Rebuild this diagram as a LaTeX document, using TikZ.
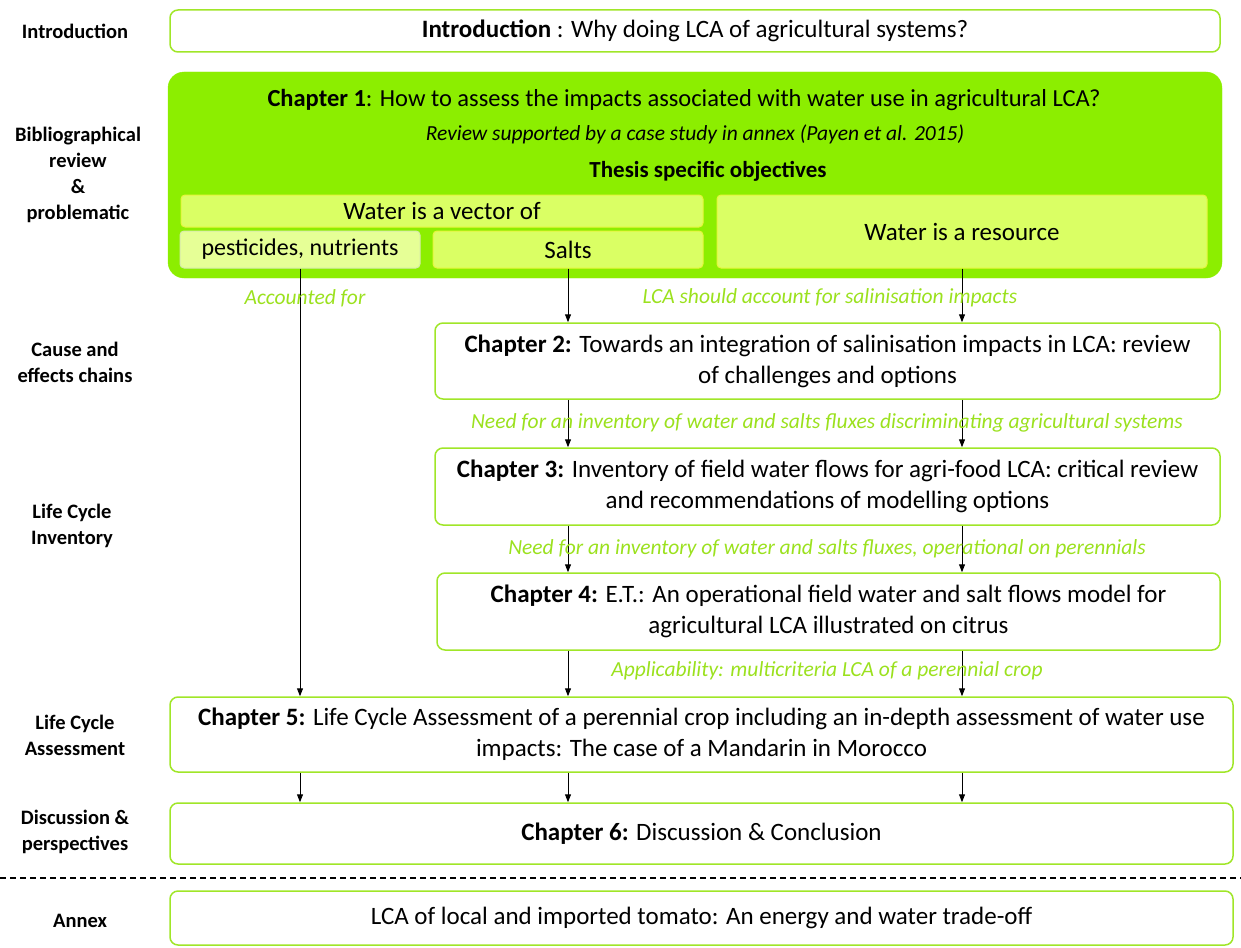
\documentclass[tikz,border=0pt]{standalone}
\usepackage{fontspec}
\setmainfont{Carlito}
\usetikzlibrary{arrows.meta}
\definecolor{gborder}{RGB}{160,230,40}
\definecolor{gfill}{RGB}{140,238,0}
\definecolor{yfill}{RGB}{218,255,100}
\definecolor{yborder}{RGB}{230,245,60}
\definecolor{pfill}{RGB}{230,255,150}
\definecolor{pborder}{RGB}{215,235,170}
\definecolor{gtext}{RGB}{155,225,30}
\begin{document}
\begin{tikzpicture}[x=1pt,y=-1pt,
  box/.style={draw=gborder, line width=1.5pt, rounded corners=8pt, fill=white, align=center,
    font=\fontsize{25}{31}\selectfont, inner sep=0pt},
  inbox/.style={draw=yborder, line width=1pt, rounded corners=4pt, fill=yfill, align=center,
    font=\fontsize{25}{28}\selectfont, inner sep=0pt},
  pbox/.style={draw=pborder, line width=1pt, rounded corners=4pt, fill=pfill, align=center,
    font=\fontsize{24}{28}\selectfont, inner sep=0pt},
  side/.style={align=center, font=\bfseries\fontsize{20.5}{26}\selectfont},
  glab/.style={text=gtext, font=\itshape\fontsize{21.5}{24}\selectfont, inner sep=0pt},
  ttl/.style={align=center, inner sep=0pt},
  arr/.style={-{Triangle[length=8pt,width=6pt]}, line width=1pt, black}]
\useasboundingbox (0,0) rectangle (1241,947);

% side labels
\node[side] (sIntro) at (75,31) {Introduction};
\node[side] (sBib) at (78,175) {Bibliographical\\review\\\&\\problematic};
\node[side] (sCause) at (75,362) {Cause and\\effects chains};
\node[side] (sLCI) at (72,526) {Life Cycle\\Inventory};
\node[side] (sLCA) at (75,735) {Life Cycle\\Assessment};
\node[side] (sDisc) at (75,832) {Discussion \&\\perspectives};
\node[side] (sAnnex) at (80,921) {Annex};

% boxes
\node[box, minimum width=1050, minimum height=42] (intro) at (695,31)
  {\textbf{Introduction} : Why doing LCA of agricultural systems?};

\node[draw=gfill, fill=gfill, rounded corners=16pt, minimum width=1054, minimum height=206, inner sep=0pt] (ch1) at (695,175) {};
\node[ttl, font=\fontsize{24.5}{28}\selectfont] (ch1t) at (684,100)
  {\textbf{Chapter 1}: How to assess the impacts associated with water use in agricultural LCA?};
\node[ttl, font=\itshape\fontsize{21.5}{24}\selectfont] (ch1s) at (695,134)
  {Review supported by a case study in annex (Payen et al. 2015)};
\node[ttl, font=\bfseries\fontsize{23}{26}\selectfont] (obj) at (708,171)
  {Thesis specific objectives};

\node[inbox, minimum width=522, minimum height=32] (vec) at (442,211) {Water is a vector of};
\node[pbox, minimum width=240, minimum height=37] (pest) at (300,249.5) {pesticides, nutrients};
\node[inbox, minimum width=270, minimum height=37] (salts) at (568,249.5) {Salts};
\node[inbox, minimum width=490, minimum height=73] (res) at (962,231.5) {Water is a resource};

\node[box, minimum width=785, minimum height=76] (ch2) at (827.5,361)
  {\textbf{Chapter 2:} Towards an integration of salinisation impacts in LCA: review\\of challenges and options};
\node[box, minimum width=785, minimum height=77] (ch3) at (827.5,486.5)
  {\textbf{Chapter 3:} Inventory of field water flows for agri-food LCA: critical review\\and recommendations of modelling options};
\node[box, minimum width=783, minimum height=77] (ch4) at (828.5,611.5)
  {\textbf{Chapter 4:} E.T.: An operational field water and salt flows model for\\agricultural LCA illustrated on citrus};
\node[box, minimum width=1063, minimum height=75] (ch5) at (701.5,734.5)
  {\textbf{Chapter 5:} Life Cycle Assessment of a perennial crop including an in-depth assessment of water use\\impacts: The case of a Mandarin in Morocco};
\node[box, minimum width=1063, minimum height=61] (ch6) at (701.5,833.5)
  {\textbf{Chapter 6:} Discussion \& Conclusion};
\node[box, minimum width=1063, minimum height=54] (annex) at (701.5,918)
  {LCA of local and imported tomato: An energy and water trade-off};

% dashed separator
\coordinate (dl) at (0,878);
\coordinate (dr) at (1241,878);
\draw[line width=1.2pt, dash pattern=on 6pt off 4pt] (dl) -- (dr);

% arrows
\draw[arr] (pest.south) -- (pest.south |- ch5.north);
\draw[arr] (salts.south) -- (salts.south |- ch2.north);
\draw[arr] (res.south) -- (res.south |- ch2.north);
\draw[arr] (ch2.south -| salts.south) -- (ch3.north -| salts.south);
\draw[arr] (ch2.south -| res.south) -- (ch3.north -| res.south);
\draw[arr] (ch3.south -| salts.south) -- (ch4.north -| salts.south);
\draw[arr] (ch3.south -| res.south) -- (ch4.north -| res.south);
\draw[arr] (ch4.south -| salts.south) -- (ch5.north -| salts.south);
\draw[arr] (ch4.south -| res.south) -- (ch5.north -| res.south);
\draw[arr] (ch5.south -| pest.south) -- (ch6.north -| pest.south);
\draw[arr] (ch5.south -| salts.south) -- (ch6.north -| salts.south);
\draw[arr] (ch5.south -| res.south) -- (ch6.north -| res.south);

% green labels
\node[glab] (l1) at (305,298) {Accounted for};
\node[glab] (l2) at (830,298) {LCA should account for salinisation impacts};
\node[glab] (l3) at (827,423) {Need for an inventory of water and salts fluxes discriminating agricultural systems};
\node[glab] (l4) at (827,549) {Need for an inventory of water and salts fluxes, operational on perennials};
\node[glab] (l5) at (827,671) {Applicability: multicriteria LCA of a perennial crop};
\end{tikzpicture}
\end{document}
